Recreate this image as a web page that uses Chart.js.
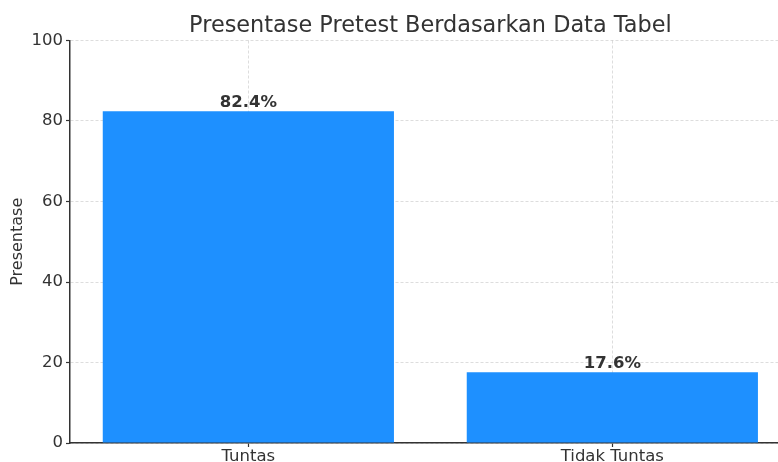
<!DOCTYPE html>
<html>
<head>
<meta charset="utf-8">
<script src="https://cdn.jsdelivr.net/npm/chart.js@4.4.1/dist/chart.umd.min.js"></script>
<style>
  html, body { margin: 0; padding: 0; background: #fff; overflow: hidden; }
  #wrap { width: 800px; height: 462px; }
</style>
</head>
<body>
<div id="wrap"><canvas id="myChart" width="800" height="462"></canvas></div>
<script>
// data
const categories = ['Tuntas', 'Tidak Tuntas'];
const percentages = [82.4, 17.6];
const yTicks = [0, 20, 40, 60, 80, 100];

const textColor = '#333333';
const font = 'DejaVu Sans';

// title centred over the plot area, like matplotlib
const titlePlugin = {
    id: 'plotTitle',
    afterDraw(chart) {
        const { ctx, chartArea } = chart;
        ctx.save();
        ctx.font = '22.4px "' + font + '"';
        ctx.fillStyle = textColor;
        ctx.textAlign = 'center';
        ctx.textBaseline = 'alphabetic';
        ctx.fillText('Presentase Pretest Berdasarkan Data Tabel', (chartArea.left + chartArea.right) / 2, 32);
        ctx.restore();
    }
};

// percentage labels above the bars
const valueLabels = {
    id: 'valueLabels',
    afterDatasetsDraw(chart) {
        const { ctx } = chart;
        const meta = chart.getDatasetMeta(0);
        ctx.save();
        ctx.font = 'bold 16.5px "' + font + '"';
        ctx.fillStyle = textColor;
        ctx.textAlign = 'center';
        ctx.textBaseline = 'alphabetic';
        meta.data.forEach((bar, i) => {
            ctx.fillText(percentages[i].toFixed(1) + '%', bar.x, bar.y - 4);
        });
        ctx.restore();
    }
};

const gridStyle = {
    color: 'rgba(176,176,176,0.55)',
    lineWidth: 0.8,
    tickLength: 4,
    tickColor: textColor,
    tickWidth: 1.2,
    offset: false
};

document.addEventListener('DOMContentLoaded', () => {
    const canvas = document.getElementById('myChart');
    new Chart(canvas, {
        type: 'bar',
        data: {
            datasets: [{
                data: categories.map((c, i) => ({ x: i, y: percentages[i] })),
                backgroundColor: '#1E90FF',
                borderWidth: 0,
                barPercentage: 1,
                categoryPercentage: 0.8
            }]
        },
        options: {
            responsive: false,
            animation: false,
            devicePixelRatio: 1,
            layout: { padding: { top: 40.5, right: 9.3, left: 0, bottom: 0 } },
            plugins: {
                legend: { display: false },
                title: { display: false },
                tooltip: { enabled: false }
            },
            scales: {
                x: {
                    type: 'linear',
                    min: -0.49,
                    max: 1.49,
                    offset: false,
                    z: 1,
                    afterFit(scale) { scale.height = 19; },
                    afterBuildTicks(scale) {
                        scale.ticks = categories.map((c, i) => ({ value: i }));
                    },
                    ticks: {
                        stepSize: 1,
                        includeBounds: false,
                        padding: 0,
                        color: textColor,
                        font: { family: font, size: 16.5 },
                        callback: v => categories[v]
                    },
                    grid: gridStyle,
                    border: { display: true, color: textColor, width: 1.5, dash: [3, 2] }
                },
                y: {
                    min: 0,
                    max: 100,
                    z: 1,
                    afterFit(scale) { scale.width = 70; },
                    afterBuildTicks(scale) {
                        scale.ticks = yTicks.map(v => ({ value: v }));
                    },
                    ticks: {
                        stepSize: 20,
                        padding: 3,
                        color: textColor,
                        font: { family: font, size: 16.5 }
                    },
                    title: {
                        display: true,
                        text: 'Presentase',
                        color: textColor,
                        font: { family: font, size: 16 },
                        padding: { top: 8, bottom: 0 }
                    },
                    grid: gridStyle,
                    border: { display: true, color: textColor, width: 1.5, dash: [3, 2] }
                }
            }
        },
        plugins: [titlePlugin, valueLabels]
    });
});
</script>
</body>
</html>
